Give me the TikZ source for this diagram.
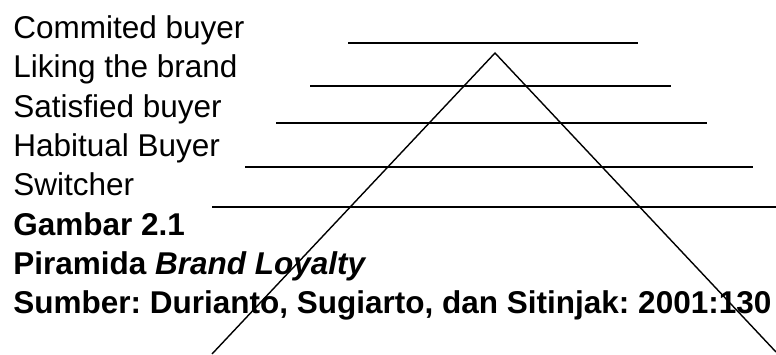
\documentclass[tikz,border=0pt]{standalone}
\usepackage{fontspec}
\setmainfont{Liberation Sans}
\frenchspacing
\begin{document}
\begin{tikzpicture}[x=0.5pt,y=-0.5pt]
\tikzstyle{levellabel}=[anchor=base west,inner sep=0pt,font=\fontsize{15.75}{19}\selectfont]
\tikzstyle{captionlabel}=[levellabel,font=\fontsize{15.75}{19}\selectfont\bfseries]
\tikzstyle{levelline}=[line width=1pt]
\tikzstyle{pyramidleg}=[line width=0.7pt]
\useasboundingbox (0,0) rectangle (776,354);
\node[levellabel] (committed) at (13,38) {Commited buyer};
\node[levellabel] (liking) at (13,77) {Liking the brand};
\node[levellabel] (satisfied) at (13,117) {Satisfied buyer};
\node[levellabel] (habitual) at (13,156) {Habitual Buyer};
\node[levellabel] (switcher) at (13,195) {Switcher};
\node[captionlabel] (figno) at (13,235) {Gambar 2.1};
\node[captionlabel] (figtitle) at (13,274) {Piramida \textit{Brand Loyalty}};
\node[captionlabel] (figsource) at (13,313) {Sumber: Durianto, Sugiarto, dan Sitinjak: 2001:130};
\draw[levelline] (348,43) -- (638,43);
\draw[levelline] (310,86) -- (671,86);
\draw[levelline] (276,123) -- (707,123);
\draw[levelline] (245,167) -- (753,167);
\draw[levelline] (212,207) -- (776,207);
% the pyramid over the level lines
\coordinate (apex) at (495,53);
\draw[pyramidleg] (212,354) -- (apex) -- (776,352);
\end{tikzpicture}
\end{document}
